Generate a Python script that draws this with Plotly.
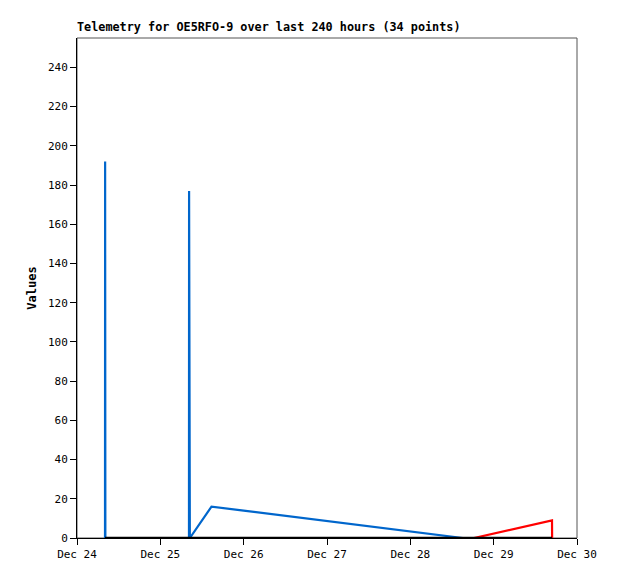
import plotly.graph_objects as go

# Data
blue_times = ["2023-12-24 08:04", "2023-12-24 08:06", "2023-12-24 08:10", "2023-12-25 08:15",
              "2023-12-25 08:17", "2023-12-25 08:30", "2023-12-25 14:44", "2023-12-26 00:00",
              "2023-12-27 00:00", "2023-12-28 00:00", "2023-12-28 15:07"]
blue_values = [0, 192, 0, 0, 177, 0, 16, 14, 8.6, 3.3, 0]

red_times = ["2023-12-28 18:20", "2023-12-29 00:00", "2023-12-29 16:48", "2023-12-29 16:50"]
red_values = [0, 2.2, 9, 0]

black_times = ["2023-12-24 08:04", "2023-12-25 08:15", "2023-12-26 00:00", "2023-12-27 00:00",
               "2023-12-28 00:00", "2023-12-29 00:00", "2023-12-29 16:50"]
black_values = [0, 0, 0, 0, 0, 0, 0]

x_ticks = ["2023-12-24", "2023-12-25", "2023-12-26", "2023-12-27", "2023-12-28", "2023-12-29", "2023-12-30"]
x_tick_labels = ["Dec 24", "Dec 25", "Dec 26", "Dec 27", "Dec 28", "Dec 29", "Dec 30"]
y_ticks = [0, 20, 40, 60, 80, 100, 120, 140, 160, 180, 200, 220, 240]

font_mono = "DejaVu Sans Mono, Liberation Mono, monospace"

fig = go.Figure()
fig.add_trace(go.Scatter(x=blue_times, y=blue_values, mode="lines",
                         line=dict(color="#0066CC", width=2.2), showlegend=False))
fig.add_trace(go.Scatter(x=red_times, y=red_values, mode="lines",
                         line=dict(color="#FF0000", width=2.2), showlegend=False))
fig.add_trace(go.Scatter(x=black_times, y=black_values, mode="lines",
                         line=dict(color="#000000", width=2.5), showlegend=False))

# gray frame on top/right like the reference
fig.add_shape(type="rect", xref="paper", yref="paper", x0=0, x1=1, y0=0, y1=1,
              line=dict(color="#555555", width=1), layer="below")

fig.update_layout(
    width=618, height=579,
    margin=dict(l=69, r=49, t=30, b=49),
    paper_bgcolor="white", plot_bgcolor="white",
    font=dict(family=font_mono, size=11, color="black"),
    title=dict(text="<b>Telemetry for OE5RFO-9 over last 240 hours (34 points)</b>",
               x=69 / 618, xanchor="left", y=1 - 23 / 579, yanchor="bottom",
               font=dict(family=font_mono, size=11.8, color="black")),
    xaxis=dict(type="date", range=["2023-12-24", "2023-12-30"],
               tickvals=x_ticks, ticktext=x_tick_labels,
               showgrid=False, zeroline=False,
               showline=True, linecolor="black", linewidth=1,
               ticks="outside", ticklen=6, tickcolor="black",
               tickfont=dict(family=font_mono, size=11)),
    yaxis=dict(range=[0, 255], tickvals=y_ticks,
               showgrid=False, zeroline=False,
               showline=True, linecolor="black", linewidth=1,
               ticks="outside", ticklen=6, tickcolor="black",
               tickfont=dict(family=font_mono, size=11),
               title=dict(text="<b>Values</b>", standoff=8,
                          font=dict(family=font_mono, size=12))),
)

fig.write_html("out.html")
